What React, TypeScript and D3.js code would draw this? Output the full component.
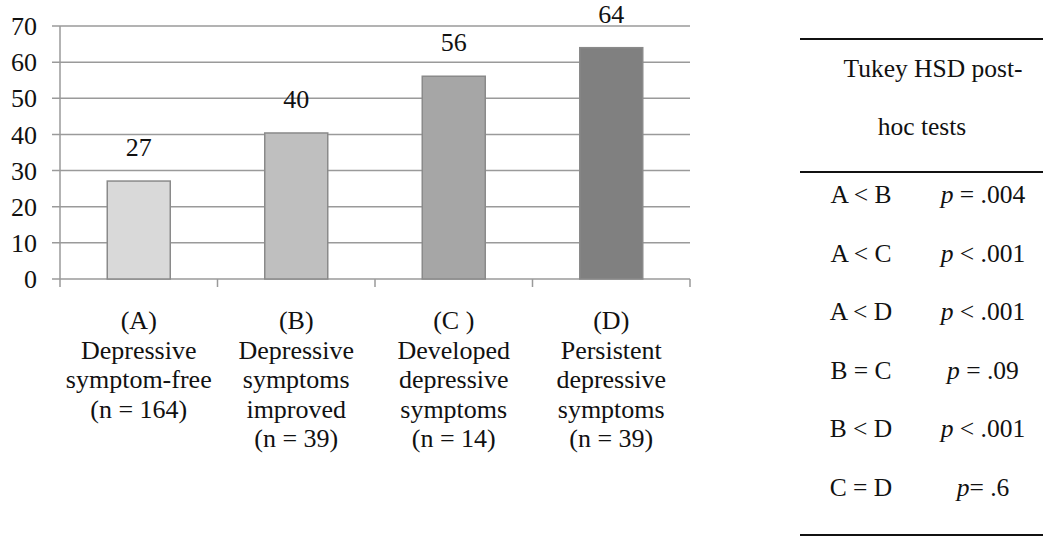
import React from "react";
import * as d3 from "d3";

const categories = ["A", "B", "C", "D"];
const values = [27.1, 40.4, 56.1, 64.0];
const valueLabels = ["27", "40", "56", "64"];
const barColors = ["#d9d9d9", "#bfbfbf", "#a6a6a6", "#808080"];
const categoryLabels = [
  ["(A)", "Depressive", "symptom-free", "(n = 164)"],
  ["(B)", "Depressive", "symptoms", "improved", "(n = 39)"],
  ["(C )", "Developed", "depressive", "symptoms", "(n = 14)"],
  ["(D)", "Persistent", "depressive", "symptoms", "(n = 39)"],
];
const yTicks = [0, 10, 20, 30, 40, 50, 60, 70];
const tableHeader = ["Tukey HSD post-", "hoc tests"];
const tableComparisons = ["A < B", "A < C", "A < D", "B = C", "B < D", "C = D"];
const tablePRelations = ["= .004", "< .001", "< .001", "= .09", "< .001", "= .6"];
const tablePPrefix = ["p ", "p ", "p ", "p ", "p ", "p"];

const W = 1050;
const H = 544;
const FONT = "Liberation Serif, Times New Roman, serif";

export default function App() {
  const left = 60;
  const right = 690;
  const top = 26;
  const bottom = 279;

  const x = d3.scaleBand<string>().domain(categories).range([left, right]).padding(0);
  const y = d3.scaleLinear().domain([0, 70]).range([bottom, top]);
  const barW = x.bandwidth() * 0.4;
  const gridColor = "#9a9a9a";

  const tickXs = [...categories.map((c) => x(c) as number), right];
  const ts: React.CSSProperties = { fontFamily: FONT };

  return (
    <svg
      width={W}
      height={H}
      style={{ position: "absolute", left: 0, top: 0, background: "#fff", fontFamily: FONT }}
    >
      <rect x={0} y={0} width={W} height={H} fill="#fff" />
      {yTicks.map((t) => (
        <line
          key={"g" + t}
          x1={left - 8}
          x2={right}
          y1={y(t)}
          y2={y(t)}
          stroke={gridColor}
          strokeWidth={1.5}
        />
      ))}
      <line x1={left} x2={left} y1={top} y2={bottom} stroke={gridColor} strokeWidth={1.5} />
      {tickXs.map((tx, i) => (
        <line
          key={"ct" + i}
          x1={tx}
          x2={tx}
          y1={bottom}
          y2={bottom + 8}
          stroke={gridColor}
          strokeWidth={1.5}
        />
      ))}
      {yTicks.map((t) => (
        <text
          key={"yl" + t}
          x={37}
          y={y(t)}
          dy="0.35em"
          textAnchor="end"
          fontSize={26}
          fill="#111"
          style={ts}
        >
          {t}
        </text>
      ))}
      {categories.map((c, i) => {
        const cx = (x(c) as number) + x.bandwidth() / 2;
        return (
          <g key={"b" + c}>
            <rect
              x={cx - barW / 2}
              y={y(values[i])}
              width={barW}
              height={y(0) - y(values[i])}
              fill={barColors[i]}
              stroke="#8a8a8a"
              strokeWidth={1.5}
            />
            <text
              x={cx}
              y={y(values[i]) - 25}
              textAnchor="middle"
              fontSize={26}
              fill="#111"
              style={ts}
            >
              {valueLabels[i]}
            </text>
            <text textAnchor="middle" fontSize={26} fill="#111" style={ts}>
              {categoryLabels[i].map((line, j) => (
                <tspan key={j} x={cx} y={329 + j * 29.5}>
                  {line}
                </tspan>
              ))}
            </text>
          </g>
        );
      })}
      <line x1={800} x2={1043} y1={39} y2={39} stroke="#111" strokeWidth={2} />
      <line x1={800} x2={1043} y1={172} y2={172} stroke="#111" strokeWidth={2} />
      <line x1={800} x2={1043} y1={535} y2={535} stroke="#111" strokeWidth={2} />
      {tableHeader.map((h, i) => (
        <text
          key={"h" + i}
          x={i === 0 ? 933 : 922}
          y={77 + i * 58}
          textAnchor="middle"
          fontSize={25.5}
          fill="#111"
          style={ts}
        >
          {h}
        </text>
      ))}
      {tableComparisons.map((c, i) => (
        <g key={"r" + i}>
          <text x={861} y={203 + i * 58.5} textAnchor="middle" fontSize={25.5} fill="#111" style={ts}>
            {c}
          </text>
          <text x={983} y={203 + i * 58.5} textAnchor="middle" fontSize={25.5} fill="#111" style={ts}>
            <tspan fontStyle="italic">{tablePPrefix[i]}</tspan>
            <tspan>{tablePRelations[i]}</tspan>
          </text>
        </g>
      ))}
    </svg>
  );
}
